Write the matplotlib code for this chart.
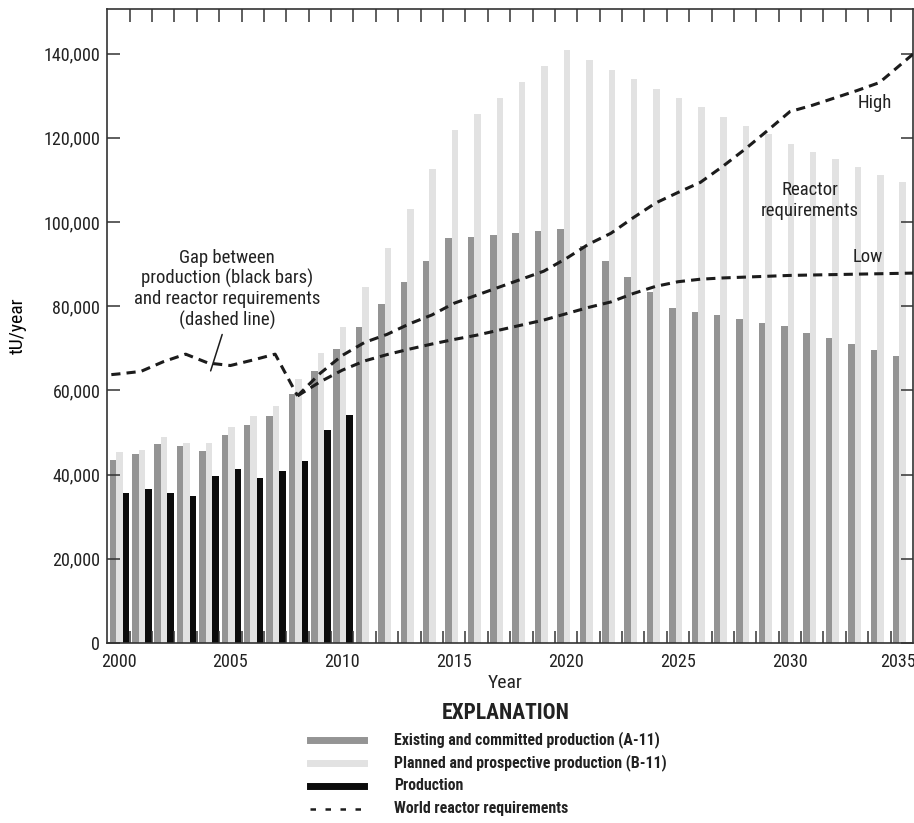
# -----------------------------------------------------------
# PRODUCCION DE URANIO Y REQUERIMIENTOS DE REACTORES
# -----------------------------------------------------------

import os
import matplotlib
matplotlib.use("Agg")
import matplotlib.pyplot as plt
from matplotlib import font_manager
from matplotlib.font_manager import FontProperties
from matplotlib.lines import Line2D
from matplotlib.ticker import FuncFormatter
from matplotlib.transforms import ScaledTranslation

# Años del gráfico
anios = list(range(2000, 2036))

# Producción existente y comprometida (A-11), tU/año
existente = [43400, 44900, 47200, 46900, 45600, 49300, 51700, 54000, 59200,
             64600, 69900, 75100, 80400, 85700, 90800, 96100, 96400, 96900,
             97400, 97900, 98300, 94400, 90800, 87000, 83300, 79500, 78600,
             77800, 76900, 76000, 75200, 73700, 72400, 70900, 69500, 68100]

# Producción planificada y prospectiva (B-11), tU/año
planificada = [45300, 45800, 49000, 47400, 47400, 51200, 53800, 56400, 62600,
               68900, 75100, 84600, 93900, 103100, 112500, 121800, 125600,
               129400, 133200, 137000, 140800, 138500, 136200, 134000, 131600,
               129400, 127200, 125000, 122900, 120900, 118500, 116700, 114900,
               113100, 111200, 109400]

# Producción real
anios_produccion = list(range(2000, 2011))
produccion = [35550, 36500, 35550, 35000, 39700, 41400, 39100, 40800, 43300,
              50600, 54100]

# Requerimientos mundiales de reactores (histórico)
anios_req = list(range(1999, 2009))
requerimientos = [63400, 63900, 64500, 66800, 68600, 66500, 65900, 67200,
                  68600, 58700]

# Escenarios alto y bajo
anios_escenario = list(range(2008, 2037))
req_alto = [58700, 64000, 68300, 71400, 73300, 75800, 77900, 80700, 82600,
            84500, 86400, 88300, 91300, 94700, 97300, 101000, 104500, 107000,
            109400, 113200, 117300, 121700, 126200, 127700, 129450, 131200,
            133100, 137600, 142100]
req_bajo = [58700, 62000, 64800, 67000, 68500, 69800, 71000, 72100, 73100,
            74300, 75500, 76700, 78200, 79700, 81000, 83000, 84700, 85800,
            86400, 86700, 86900, 87100, 87300, 87400, 87500, 87600, 87700,
            87800, 87900]

# Colores
gris_oscuro = "#949494"
gris_claro = "#e2e2e2"
negro = "#0b0b0b"
linea = "#1c1c1c"
texto_color = "#222222"

# -----------------------------------------------------------
# FUENTES (estrecha si hay alguna instalada)
# -----------------------------------------------------------

archivos = {os.path.basename(f.fname): f.fname for f in font_manager.fontManager.ttflist}


def buscar_fuente(opciones):
    for nombre in opciones:
        if nombre in archivos:
            return archivos[nombre]
    return None


ruta_normal = buscar_fuente(["LiberationSansNarrow-Regular.ttf",
                             "NotoSans-Condensed.ttf",
                             "RobotoCondensed-Regular.ttf",
                             "DejaVuSansCondensed.ttf",
                             "LiberationSans-Regular.ttf"])
ruta_negrita = buscar_fuente(["LiberationSansNarrow-Bold.ttf",
                              "NotoSans-CondensedBold.ttf",
                              "RobotoCondensed-Bold.ttf",
                              "DejaVuSansCondensed-Bold.ttf",
                              "LiberationSans-Bold.ttf"])


def fuente(tam, negrita=False):
    ruta = ruta_negrita if negrita else ruta_normal
    if ruta is None:
        return FontProperties(size=tam, weight="bold" if negrita else "normal")
    return FontProperties(fname=ruta, size=tam)


plt.rcParams["text.color"] = texto_color

# -----------------------------------------------------------
# FIGURA
# -----------------------------------------------------------

fig, ax = plt.subplots(figsize=(9.14, 8.23), dpi=100)
fig.subplots_adjust(left=0.1174, right=0.9989, bottom=0.2187, top=0.9887)

ancho = 0.29

# Barras
ax.bar([a - 0.25 for a in anios], existente, width=ancho, color=gris_oscuro, linewidth=0)
ax.bar([a + 0.04 for a in anios], planificada, width=ancho, color=gris_claro, linewidth=0)
ax.bar([a + 0.33 for a in anios_produccion], produccion, width=ancho, color=negro, linewidth=0)

# Líneas de requerimientos
estilo = dict(color=linea, lw=2.2, linestyle=(0, (3, 2)), zorder=3)
ax.plot(anios_req, requerimientos, **estilo)
ax.plot(anios_escenario, req_alto, **estilo)
ax.plot(anios_escenario, req_bajo, **estilo)

# Límites
ax.set_xlim(1999.5, 2035.5)
ax.set_ylim(0, 150500)

# -----------------------------------------------------------
# EJES
# -----------------------------------------------------------

ax.set_yticks(range(0, 140001, 20000))
ax.yaxis.set_major_formatter(FuncFormatter(lambda v, p: f"{int(v):,}"))
ax.tick_params(axis="y", direction="in", length=9, width=1.1, right=True,
               pad=5, colors="#333333", labelcolor=texto_color)

ax.set_xticks(range(2000, 2036, 5))
ax.set_xticks([a + 0.5 for a in range(2000, 2035)], minor=True)
ax.tick_params(axis="x", which="major", length=0, pad=7, labelcolor=texto_color)
ax.tick_params(axis="x", which="minor", direction="in", length=9, width=1.1,
               top=True, color="#333333")

for etiqueta in ax.get_xticklabels() + ax.get_yticklabels():
    etiqueta.set_fontproperties(fuente(13))

# El último año queda pegado al borde: lo corremos unos píxeles
ultima = ax.get_xticklabels()[-1]
ultima.set_transform(ultima.get_transform() + ScaledTranslation(-4 / 100, 0, fig.dpi_scale_trans))

for lado in ax.spines.values():
    lado.set_color("#333333")
    lado.set_linewidth(1.2)

ax.set_ylabel("tU/year", fontproperties=fuente(14))
ax.yaxis.set_label_coords(-0.100, 0.5)

fig.text(505 / 914, 1 - 683 / 823, "Year", ha="center", va="center",
         fontproperties=fuente(14))

# -----------------------------------------------------------
# ANOTACIONES
# -----------------------------------------------------------

ax.text(2004.84, 84000,
        "Gap between\nproduction (black bars)\nand reactor requirements\n(dashed line)",
        ha="center", va="center", fontproperties=fuente(13.5), linespacing=1.15)
ax.annotate("", xy=(2004.08, 64000), xytext=(2004.67, 73900),
            arrowprops=dict(arrowstyle="-", color=linea, lw=1.1))

ax.text(2033.79, 128200, "High", ha="center", va="center", fontproperties=fuente(13.5))
ax.text(2030.9, 105000, "Reactor\nrequirements", ha="center", va="center",
        fontproperties=fuente(13.5), linespacing=1.2)
ax.text(2033.49, 91600, "Low", ha="center", va="center", fontproperties=fuente(13.5))

# -----------------------------------------------------------
# EXPLICACION
# -----------------------------------------------------------

fig.text(506 / 914, 1 - 713 / 823, "EXPLANATION", ha="center", va="center",
         fontproperties=fuente(15.5, True))

filas = [
    ("Existing and committed production (A-11)", gris_oscuro, "-", 5),
    ("Planned and prospective production (B-11)", gris_claro, "-", 5),
    ("Production", negro, "-", 5),
    ("World reactor requirements", linea, (0, (2.2, 3.8)), 1.8),
]
posiciones = [740, 763, 786, 809]

for (texto, color, tipo, grosor), y in zip(filas, posiciones):
    yf = 1 - y / 823
    fig.add_artist(Line2D([310 / 914, 364 / 914], [yf, yf], color=color,
                          linestyle=tipo, lw=grosor,
                          transform=fig.transFigure))
    fig.text(394 / 914, yf, texto, ha="left", va="center",
             fontproperties=fuente(11.4, True))

fig.savefig("out.png", dpi=100)
